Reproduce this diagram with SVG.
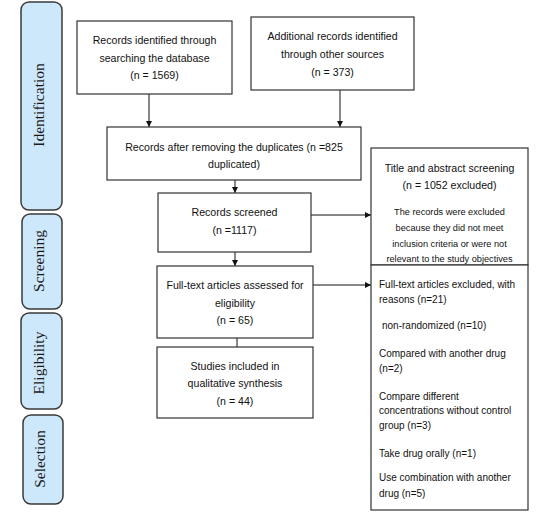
<svg xmlns="http://www.w3.org/2000/svg" width="547" height="524" viewBox="0 0 547 524">
<defs>
<style>
.phase{fill:#cde8fb;stroke:#3a3a3a;stroke-width:1.5}
.phaset{font-family:"Liberation Serif",serif;font-size:15.5px;fill:#1a1a1a;text-anchor:middle}
.box{fill:#fff;stroke:#333;stroke-width:1.2}
.t{font-family:"Liberation Sans",Arial,sans-serif;font-size:10.6px;fill:#111;text-anchor:middle}
.s{font-family:"Liberation Sans",Arial,sans-serif;font-size:9.2px;fill:#111;text-anchor:middle}
.l{font-family:"Liberation Sans",Arial,sans-serif;font-size:10px;fill:#111}
.c{stroke:#111;stroke-width:1;fill:none}
</style>
<marker id="ah" viewBox="0 0 10 10" refX="10" refY="5" markerWidth="6" markerHeight="6" orient="auto" markerUnits="userSpaceOnUse">
<path d="M0,0 L10,5 L0,10 z" fill="#111"/>
</marker>
</defs>
<rect width="547" height="524" fill="#fff"/>
<g id="phase-identification"><rect class="phase" x="21" y="2" width="41" height="208" rx="8"/><text class="phaset" transform="translate(44,105) rotate(-90)">Identification</text></g>
<g id="phase-screening"><rect class="phase" x="22" y="214" width="40" height="95" rx="8"/><text class="phaset" transform="translate(44,261) rotate(-90)">Screening</text></g>
<g id="phase-eligibility"><rect class="phase" x="21" y="313" width="41" height="96" rx="8"/><text class="phaset" transform="translate(44,363) rotate(-90)">Eligibility</text></g>
<g id="phase-selection"><rect class="phase" x="23" y="415" width="40" height="89" rx="8"/><text class="phaset" transform="translate(45,459) rotate(-90)">Selection</text></g>

<g id="connectors">
<line class="c" x1="149" y1="86" x2="149" y2="127" marker-end="url(#ah)"/>
<line class="c" x1="340" y1="86" x2="340" y2="127" marker-end="url(#ah)"/>
<line class="c" x1="235" y1="180" x2="235" y2="193" marker-end="url(#ah)"/>
<line class="c" x1="235" y1="240" x2="235" y2="266" marker-end="url(#ah)"/>
<line class="c" x1="237" y1="325" x2="237" y2="347"/>
<line class="c" x1="311" y1="215" x2="371" y2="215" marker-end="url(#ah)"/>
<line class="c" x1="313" y1="285" x2="371" y2="285" marker-end="url(#ah)"/>
</g>

<g id="records-database"><rect class="box" x="77" y="21" width="155" height="73"/>
<text class="t" x="154.5" y="44">Records identified through</text>
<text class="t" x="154.5" y="62">searching the database</text>
<text class="t" x="154.5" y="79">(n = 1569)</text></g>

<g id="records-other"><rect class="box" x="251" y="17" width="163" height="73"/>
<text class="t" x="332.5" y="40">Additional records identified</text>
<text class="t" x="332.5" y="58">through other sources</text>
<text class="t" x="332.5" y="76">(n = 373)</text></g>

<g id="records-dedup"><rect class="box" x="107" y="127" width="254" height="53"/>
<text class="t" x="234" y="151">Records after removing the duplicates (n =825</text>
<text class="t" x="234" y="168">duplicated)</text></g>

<g id="records-screened"><rect class="box" x="158" y="193" width="153" height="59"/>
<text class="t" x="234.5" y="216">Records screened</text>
<text class="t" x="234.5" y="234">(n =1117)</text></g>

<g id="fulltext-assessed"><rect class="box" x="157" y="266" width="156" height="72"/>
<text class="t" x="235" y="289">Full-text articles assessed for</text>
<text class="t" x="235" y="307">eligibility</text>
<text class="t" x="235" y="324">(n = 65)</text></g>

<g id="studies-included"><rect class="box" x="157" y="347" width="156" height="71"/>
<text class="t" x="235" y="370">Studies included in</text>
<text class="t" x="235" y="387">qualitative synthesis</text>
<text class="t" x="235" y="405">(n = 44)</text></g>

<g id="title-abstract-excluded"><rect class="box" x="371" y="148" width="157" height="117"/>
<text class="t" x="449.5" y="172">Title and abstract screening</text>
<text class="t" x="449.5" y="189">(n = 1052 excluded)</text>
<text class="s" x="449.5" y="215">The records were excluded</text>
<text class="s" x="449.5" y="231">because they did not meet</text>
<text class="s" x="449.5" y="247">inclusion criteria or were not</text>
<text class="s" x="449.5" y="262">relevant to the study objectives</text></g>

<g id="fulltext-excluded"><rect class="box" x="371" y="265" width="157" height="245"/>
<text class="l" x="379" y="288">Full-text articles excluded, with</text>
<text class="l" x="379" y="303">reasons (n=21)</text>
<text class="l" x="382" y="329">non-randomized (n=10)</text>
<text class="l" x="379" y="357">Compared with another drug</text>
<text class="l" x="379" y="372">(n=2)</text>
<text class="l" x="379" y="400">Compare different</text>
<text class="l" x="379" y="414">concentrations without control</text>
<text class="l" x="379" y="429">group (n=3)</text>
<text class="l" x="379" y="457">Take drug orally (n=1)</text>
<text class="l" x="379" y="481">Use combination with another</text>
<text class="l" x="379" y="497">drug (n=5)</text></g>
</svg>
